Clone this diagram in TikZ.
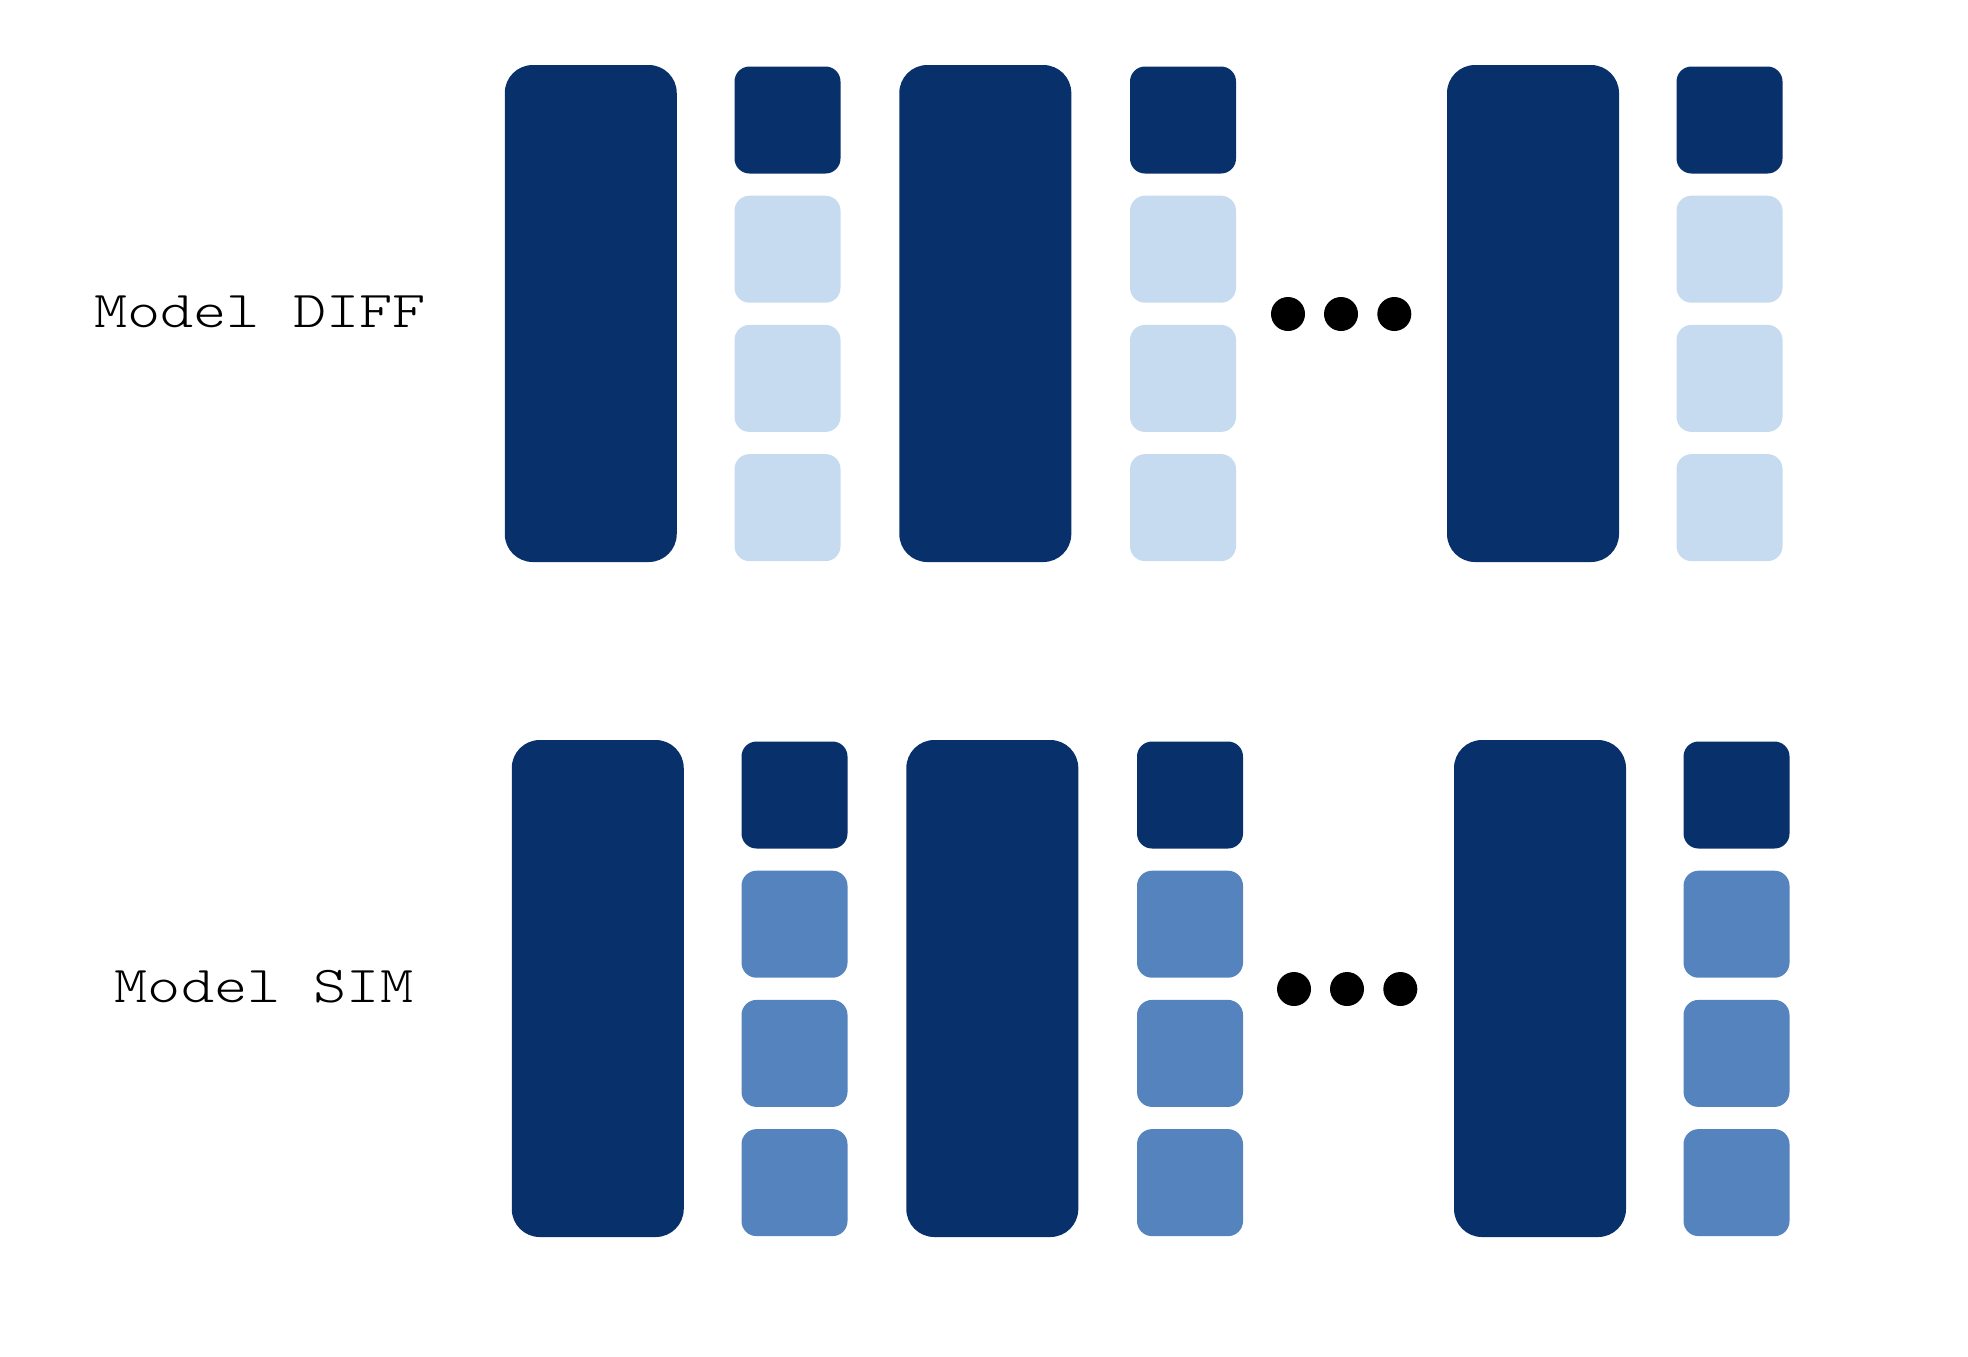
\documentclass[tikz,border=0pt]{standalone}
\usepackage{fontspec}
\newfontfamily\courlike{lmmonolt10-regular.otf}[FakeStretch=1.22]
\definecolor{navy}{RGB}{8,48,107}
\definecolor{pale}{RGB}{198,219,239}
\definecolor{mid}{RGB}{84,131,190}
\begin{document}
\begin{tikzpicture}[x=0.5pt,y=-0.5pt,
  bigblk/.style={fill=navy, rounded corners=14pt, minimum width=86pt, minimum height=248.5pt, inner sep=0pt},
  sqblk/.style={rounded corners=7.5pt, minimum width=53pt, minimum height=53.5pt, inner sep=0pt},
  dotnode/.style={circle, fill=black, minimum size=17pt, inner sep=0pt},
  lbl/.style={font=\courlike\fontsize{25.9pt}{30pt}\selectfont, anchor=base, inner sep=0pt}]
\useasboundingbox (0,0) rectangle (1968,1356);
\foreach \r/\dx/\dy/\c/\ddx in {t/0/0/pale/0, b/7/675/mid/6}{
  \foreach \i/\bx in {1/590.75, 2/985.3, 3/1533}{
    \node[bigblk] (big\r\i) at ({\bx+\dx},{313.5+\dy}) {};
  }
  \foreach \i/\cx in {1/787.5, 2/1183, 3/1729.5}{
    \node[sqblk, fill=navy] (sq\r\i0) at ({\cx+\dx},{120+\dy}) {};
    \foreach \k in {1,2,3}{
      \node[sqblk, fill=\c] (sq\r\i\k) at ({\cx+\dx},{120+129.2*\k+\dy}) {};
    }
  }
  \foreach \j/\ox in {1/1288, 2/1341, 3/1394.3}{
    \node[dotnode] (dot\r\j) at ({\ox+\ddx},{314+\dy}) {};
  }
}
\node[lbl] (labdiff) at (260,327.3) {Model DIFF};
\node[lbl] (labsim) at (264,1002.7) {Model SIM};
\end{tikzpicture}
\end{document}
